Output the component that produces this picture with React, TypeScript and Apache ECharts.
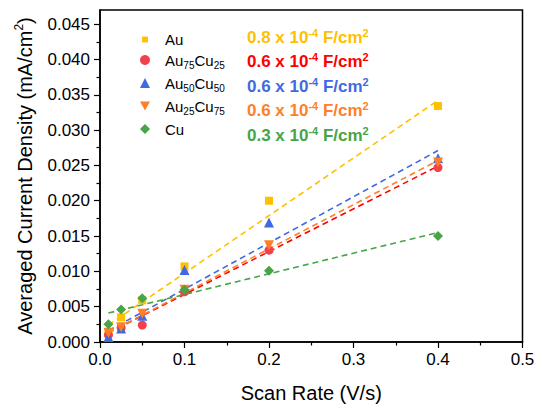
import React, { useEffect, useRef } from "react";
import * as echarts from "echarts";

// ---- data ----
const scanRates = [0.01, 0.025, 0.05, 0.1, 0.2, 0.4];
const seriesNames = ["Au", "Au75Cu25", "Au50Cu50", "Au25Cu75", "Cu"];
const auValues = [0.0014, 0.0035, 0.0059, 0.0107, 0.0200, 0.0334];
const au75cu25Values = [0.0010, 0.0020, 0.0024, 0.0071, 0.0130, 0.0247];
const au50cu50Values = [0.0007, 0.0019, 0.0037, 0.0102, 0.0169, 0.0260];
const au25cu75Values = [0.0013, 0.0021, 0.0040, 0.0074, 0.0137, 0.0254];
const cuValues = [0.0025, 0.0046, 0.0062, 0.0074, 0.0101, 0.0150];
// linear-fit lines (start / end)
const fitX = [0.01, 0.4];
const fitStart = [0.0024, 0.0013, 0.0016, 0.0013, 0.0041];
const fitEnd = [0.0342, 0.0249, 0.0271, 0.0257, 0.0155];
// capacitance labels
const capValues = ["0.8", "0.6", "0.6", "0.6", "0.3"];
// axis ticks
const xTicks = [0, 0.1, 0.2, 0.3, 0.4, 0.5];
const yTicks = [0, 0.005, 0.01, 0.015, 0.02, 0.025, 0.03, 0.035, 0.04, 0.045];
const yMinorTicks = [0.0025, 0.0075, 0.0125, 0.0175, 0.0225, 0.0275, 0.0325, 0.0375, 0.0425];

const markerColors = ["#FFC000", "#F2414B", "#4169E1", "#FF7F27", "#47A447"];
const lineColors = ["#FFC000", "#FF0000", "#4169E1", "#FF7F27", "#47A447"];
const textColors = ["#FFC000", "#FF0000", "#4169E1", "#FF7F27", "#47A447"];
const symbols = ["rect", "circle", "triangle", "triangle", "diamond"];
const symbolRotates = [0, 0, 0, 180, 0];
const symbolSizes = [8, 9, 10, 10, 10];
const legendIcons = [
  "path://M0,0M12,12M2.5,2.5L9.5,2.5L9.5,9.5L2.5,9.5Z",
  "circle",
  "triangle",
  "path://M0,0L10,0L5,9Z",
  "diamond",
];

const FONT = 'Arial, "Liberation Sans", sans-serif';

function richName(name: string): string {
  return name
    .split(/(\d+)/)
    .filter((p) => p.length > 0)
    .map((p) => (/^\d+$/.test(p) ? `{s|${p}}` : `{n|${p}}`))
    .join("");
}

export default function App() {
  const ref = useRef<HTMLDivElement>(null);
  useEffect(() => {
    if (!ref.current) return;
    const chart = echarts.init(ref.current, undefined, { renderer: "svg" });
    const allValues = [auValues, au75cu25Values, au50cu50Values, au25cu75Values, cuValues];

    const fitSeries = seriesNames.map((n, i) => ({
      name: n + " fit",
      type: "line",
      data: [
        [fitX[0], fitStart[i]],
        [fitX[1], fitEnd[i]],
      ],
      showSymbol: false,
      symbol: "none",
      silent: true,
      lineStyle: { color: lineColors[i], width: 1.6, type: [6, 4] },
      z: 2,
    }));

    const scatterSeries = seriesNames.map((n, i) => ({
      name: n,
      type: "scatter",
      data: scanRates.map((x, j) => [x, allValues[i][j]]),
      symbol: symbols[i],
      symbolRotate: symbolRotates[i],
      symbolSize: symbolSizes[i],
      itemStyle: { color: markerColors[i], opacity: 1 },
      z: 3 + i,
    }));

    const graphics = capValues.map((c, i) => ({
      type: "text",
      x: 247,
      y: 37 + i * 24.5,
      style: {
        text: `{b|${c} x 10}{p|-4}{b| F/cm}{p|2}`,
        verticalAlign: "middle",
        align: "left",
        rich: {
          b: { fontSize: 17, fontWeight: "bold", fill: textColors[i], fontFamily: FONT, lineHeight: 20 },
          p: { fontSize: 11, fontWeight: "bold", fill: textColors[i], fontFamily: FONT, lineHeight: 10, verticalAlign: "top" },
        },
      },
    }));

    chart.setOption({
      animation: false,
      backgroundColor: "#ffffff",
      textStyle: { fontFamily: FONT },
      grid: {
        left: 100,
        right: 15.5,
        top: 10,
        bottom: 58.5,
        show: true,
        borderColor: "#000",
        borderWidth: 1.5,
        backgroundColor: "transparent",
      },
      legend: {
        orient: "vertical",
        left: 135,
        top: 27,
        itemWidth: 10,
        itemHeight: 10,
        itemGap: 5.5,
        selectedMode: false,
        data: seriesNames.map((n, i) => ({ name: n, icon: legendIcons[i] })),
        formatter: (name: string) => richName(name),
        textStyle: {
          padding: [0, 0, 0, 10],
          rich: {
            n: { fontSize: 15, lineHeight: 20, color: "#000", fontFamily: FONT },
            s: { fontSize: 10, lineHeight: 10, color: "#000", fontFamily: FONT, verticalAlign: "bottom" },
          },
        },
      },
      xAxis: {
        type: "value",
        min: 0,
        max: 0.5,
        interval: 0.1,
        name: "Scan Rate (V/s)",
        nameLocation: "middle",
        nameGap: 41,
        nameTextStyle: { fontSize: 20, color: "#000", fontFamily: FONT },
        axisLine: { show: true, lineStyle: { color: "#000", width: 1.5 } },
        axisTick: { show: true, inside: false, length: 6, lineStyle: { color: "#000", width: 1.2 }, customValues: xTicks },
        minorTick: { show: true, splitNumber: 2, length: 3.5, lineStyle: { color: "#000", width: 1.2 } },
        axisLabel: {
          fontSize: 17,
          color: "#000",
          margin: 9,
          customValues: xTicks,
          formatter: (v: number) => v.toFixed(1),
        },
        splitLine: { show: false },
        minorSplitLine: { show: false },
      },
      yAxis: [
        {
          type: "value",
          min: 0,
          max: 0.047,
          interval: 0.005,
          name: "{n|Averaged Current Density (mA/cm}{sup|2}{n|)}",
          nameLocation: "middle",
          nameGap: 63,
          nameRotate: 90,
          nameTextStyle: {
            color: "#000",
            rich: {
              n: { fontSize: 20, color: "#000", fontFamily: FONT, lineHeight: 24 },
              sup: { fontSize: 12, color: "#000", fontFamily: FONT, lineHeight: 12, verticalAlign: "top" },
            },
          },
          axisLine: { show: true, lineStyle: { color: "#000", width: 1.5 } },
          axisTick: { show: true, inside: false, length: 6, lineStyle: { color: "#000", width: 1.2 }, customValues: yTicks },
          axisLabel: {
            fontSize: 17,
            color: "#000",
            margin: 10,
            customValues: yTicks,
            formatter: (v: number) => v.toFixed(3),
          },
          splitLine: { show: false },
        },
        {
          type: "value",
          min: 0,
          max: 0.047,
          position: "left",
          axisLine: { show: false },
          axisTick: { show: true, inside: false, length: 3.5, lineStyle: { color: "#000", width: 1.2 }, customValues: yMinorTicks },
          axisLabel: { show: false },
          splitLine: { show: false },
        },
      ],
      graphic: graphics,
      series: [...fitSeries, ...scatterSeries],
    });
    return () => chart.dispose();
  }, []);
  return (
    <div
      ref={ref}
      style={{ position: "fixed", left: 0, top: 0, width: 538, height: 408, background: "#fff" }}
    />
  );
}
